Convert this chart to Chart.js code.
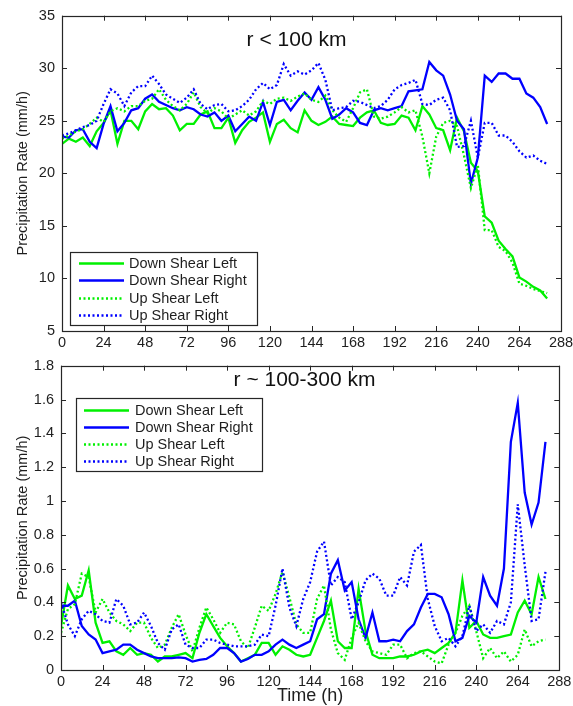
<!DOCTYPE html>
<html>
<head>
<meta charset="utf-8">
<script src="https://cdn.jsdelivr.net/npm/chart.js@4.4.1/dist/chart.umd.min.js"></script>
<style>
  html, body { margin: 0; padding: 0; background: #ffffff; }
  #wrap { position: relative; width: 573px; height: 706px; overflow: hidden; }
  #wrap canvas { position: absolute; left: 0; }
  #inner { top: 0; }
  #outer { top: 350px; }
</style>
</head>
<body>
<div id="wrap">
  <canvas id="inner" width="573" height="350" style="width:573px;height:350px"></canvas>
  <canvas id="outer" width="573" height="356" style="width:573px;height:356px"></canvas>
</div>
<script>
// Time axis (hours since start), shared by all series
const hours = [0, 4, 8, 12, 16, 20, 24, 28, 32, 36, 40, 44, 48, 52, 56, 60, 64, 68, 72, 76,
  80, 84, 88, 92, 96, 100, 104, 108, 112, 116, 120, 124, 128, 132, 136, 140, 144, 148, 152, 156,
  160, 164, 168, 172, 176, 180, 184, 188, 192, 196, 200, 204, 208, 212, 216, 220, 224, 228, 232, 236,
  240, 244, 248, 252, 256, 260, 264, 268, 272, 276, 280];

const seriesNames = ['Down Shear Left', 'Down Shear Right', 'Up Shear Left', 'Up Shear Right'];
const xTicks = [0, 24, 48, 72, 96, 120, 144, 168, 192, 216, 240, 264, 288];

// r < 100 km, precipitation rate (mm/h)
const innerDownLeft = [22.8, 23.3, 23.0, 23.4, 22.6, 24.0, 24.8, 26.0, 22.8, 25.0, 25.0, 24.2, 25.9, 26.6, 26.1, 26.2, 25.5, 24.1, 24.7, 24.7,
  25.6, 25.9, 24.3, 24.3, 25.3, 22.9, 24.1, 24.9, 25.3, 25.8, 23.0, 24.7, 25.1, 24.3, 23.9, 26.0, 25.0, 24.6, 24.9, 25.4,
  24.7, 24.6, 24.5, 25.3, 25.8, 26.0, 24.8, 24.6, 24.7, 25.5, 25.3, 24.1, 26.4, 25.6, 24.3, 24.1, 22.2, 25.3, 24.0, 21.0,
  20.2, 15.9, 15.3, 13.6, 12.8, 12.1, 10.1, 9.7, 9.2, 8.85, 8.1];
const innerDownRight = [23.5, 23.4, 24.1, 24.2, 23.0, 22.4, 24.7, 26.4, 24.0, 24.8, 26.0, 26.2, 27.1, 27.5, 26.8, 26.5, 26.2, 26.0, 26.3, 26.1,
  25.6, 25.4, 25.8, 25.0, 25.5, 24.0, 24.7, 25.4, 25.0, 26.8, 24.6, 26.8, 27.0, 26.0, 26.9, 27.7, 27.0, 28.2, 27.0, 25.2,
  25.6, 26.2, 25.8, 24.8, 24.6, 26.0, 26.2, 26.0, 26.2, 26.4, 27.8, 27.9, 28.0, 30.6, 29.8, 29.3, 27.5, 25.0, 24.2, 19.0,
  21.5, 29.3, 28.7, 29.5, 29.5, 29.0, 29.0, 27.6, 27.2, 26.3, 24.7];
const innerUpLeft = [23.3, 23.6, 24.0, 24.2, 24.7, 25.3, 24.9, 25.9, 26.2, 25.9, 26.4, 26.4, 26.9, 27.1, 28.0, 27.0, 26.4, 26.0, 26.6, 27.7,
  26.3, 25.7, 26.2, 25.9, 25.2, 25.6, 26.0, 25.5, 25.9, 26.9, 26.6, 27.1, 27.2, 26.9, 27.3, 27.6, 27.0, 26.8, 27.4, 26.0,
  25.3, 24.9, 26.2, 27.7, 28.0, 25.4, 25.2, 25.4, 25.8, 26.3, 25.8, 26.0, 23.5, 20.0, 23.5, 24.8, 25.0, 24.5, 21.7, 18.6,
  20.8, 14.6, 14.6, 13.0, 12.6, 11.5, 9.5, 9.3, 9.0, 8.8, 8.6];
const innerUpRight = [23.6, 23.8, 24.1, 24.4, 24.6, 25.0, 26.6, 28.0, 27.6, 26.4, 27.7, 28.3, 28.3, 29.3, 28.5, 27.5, 27.1, 26.7, 27.2, 28.0,
  26.6, 26.1, 26.5, 26.6, 25.9, 26.0, 26.4, 27.0, 28.0, 28.6, 28.0, 28.4, 30.4, 29.3, 29.7, 29.4, 29.8, 30.5, 28.9, 26.0,
  26.2, 26.3, 26.9, 26.8, 26.5, 26.2, 26.4, 27.0, 28.0, 28.4, 28.6, 28.9, 26.6, 26.5, 27.0, 27.2, 26.0, 22.5, 22.6, 25.0,
  21.5, 24.8, 24.8, 23.6, 23.6, 23.0, 22.1, 21.5, 21.7, 21.2, 20.9];

// r ~ 100-300 km, precipitation rate (mm/h)
const outerDownLeft = [0.26, 0.50, 0.42, 0.44, 0.59, 0.28, 0.16, 0.17, 0.11, 0.09, 0.13, 0.09, 0.10, 0.09, 0.05, 0.08, 0.08, 0.09, 0.10, 0.07,
  0.22, 0.33, 0.26, 0.19, 0.14, 0.10, 0.05, 0.07, 0.09, 0.16, 0.16, 0.09, 0.14, 0.12, 0.09, 0.08, 0.09, 0.19, 0.29, 0.41,
  0.17, 0.13, 0.13, 0.48, 0.23, 0.09, 0.07, 0.07, 0.07, 0.08, 0.08, 0.09, 0.11, 0.12, 0.10, 0.13, 0.16, 0.22, 0.53, 0.25,
  0.29, 0.21, 0.19, 0.19, 0.20, 0.21, 0.34, 0.41, 0.33, 0.55, 0.42];
const outerDownRight = [0.38, 0.38, 0.41, 0.26, 0.21, 0.18, 0.10, 0.11, 0.12, 0.15, 0.15, 0.12, 0.10, 0.08, 0.07, 0.07, 0.07, 0.075, 0.07, 0.05,
  0.06, 0.065, 0.09, 0.13, 0.13, 0.10, 0.05, 0.065, 0.09, 0.09, 0.11, 0.15, 0.18, 0.15, 0.13, 0.15, 0.17, 0.30, 0.33, 0.57,
  0.65, 0.47, 0.52, 0.30, 0.19, 0.34, 0.17, 0.17, 0.18, 0.17, 0.23, 0.27, 0.37, 0.45, 0.45, 0.43, 0.33, 0.17, 0.19, 0.32,
  0.28, 0.55, 0.44, 0.38, 0.60, 1.35, 1.58, 1.05, 0.86, 0.99, 1.35];
const outerUpLeft = [0.22, 0.36, 0.39, 0.57, 0.55, 0.34, 0.42, 0.34, 0.29, 0.27, 0.23, 0.28, 0.28, 0.19, 0.13, 0.15, 0.25, 0.33, 0.21, 0.11,
  0.25, 0.37, 0.30, 0.22, 0.28, 0.27, 0.17, 0.13, 0.25, 0.38, 0.35, 0.45, 0.58, 0.43, 0.27, 0.22, 0.22, 0.42, 0.50, 0.24,
  0.10, 0.06, 0.19, 0.28, 0.17, 0.11, 0.10, 0.09, 0.15, 0.15, 0.07, 0.10, 0.11, 0.08, 0.05, 0.04, 0.15, 0.22, 0.32, 0.38,
  0.23, 0.07, 0.13, 0.07, 0.11, 0.05, 0.09, 0.24, 0.14, 0.17, 0.18];
const outerUpRight = [0.40, 0.27, 0.20, 0.30, 0.35, 0.33, 0.29, 0.28, 0.42, 0.38, 0.27, 0.28, 0.34, 0.26, 0.16, 0.12, 0.24, 0.27, 0.15, 0.13,
  0.13, 0.18, 0.18, 0.16, 0.15, 0.14, 0.14, 0.14, 0.15, 0.21, 0.20, 0.38, 0.60, 0.37, 0.26, 0.42, 0.52, 0.70, 0.76, 0.50,
  0.55, 0.52, 0.30, 0.40, 0.53, 0.57, 0.54, 0.44, 0.44, 0.55, 0.50, 0.70, 0.74, 0.42, 0.26, 0.17, 0.19, 0.14, 0.20, 0.38,
  0.23, 0.27, 0.22, 0.29, 0.27, 0.40, 0.98, 0.62, 0.29, 0.30, 0.58];

const FONT = "'Liberation Sans', Arial, Helvetica, sans-serif";
const GREEN = '#00f000';
const BLUE = '#0000ff';
const INK = '#1e1e1e';
Chart.defaults.font.family = FONT;
Chart.defaults.color = INK;

const styles = [
  { color: GREEN, dash: [] },
  { color: BLUE, dash: [] },
  { color: GREEN, dash: [2, 2.5] },
  { color: BLUE, dash: [2, 2.5] }
];

function makeDatasets(valueLists) {
  return valueLists.map((vals, k) => ({
    label: seriesNames[k],
    data: hours.map((h, i) => ({ x: h, y: vals[i] })),
    borderColor: styles[k].color,
    borderDash: styles[k].dash,
    borderWidth: 2.3,
    pointRadius: 0,
    tension: 0,
    fill: false,
    order: 4 - k
  }));
}

// Box around the plot area with inward tick marks on all four sides
const frameTicks = {
  id: 'frameTicks',
  afterDatasetsDraw(chart) {
    const { ctx, chartArea: a, scales } = chart;
    const L = 5;
    ctx.save();
    ctx.strokeStyle = '#262626';
    ctx.lineWidth = 1;
    ctx.beginPath();
    scales.x.ticks.forEach(t => {
      const px = Math.round(scales.x.getPixelForValue(t.value)) + 0.5;
      ctx.moveTo(px, a.bottom); ctx.lineTo(px, a.bottom - L);
      ctx.moveTo(px, a.top); ctx.lineTo(px, a.top + L);
    });
    scales.y.ticks.forEach(t => {
      const py = Math.round(scales.y.getPixelForValue(t.value)) + 0.5;
      ctx.moveTo(a.left, py); ctx.lineTo(a.left + L, py);
      ctx.moveTo(a.right, py); ctx.lineTo(a.right - L, py);
    });
    ctx.stroke();
    ctx.lineWidth = 1.2;
    ctx.strokeRect(Math.round(a.left) + 0.5, Math.round(a.top) + 0.5,
      Math.round(a.right - a.left), Math.round(a.bottom - a.top));
    ctx.restore();
  }
};

// Boxed legend inside the plot area, styled from the datasets
const boxLegend = {
  id: 'boxLegend',
  afterDraw(chart, args, o) {
    const { ctx } = chart;
    ctx.save();
    ctx.fillStyle = '#ffffff';
    ctx.fillRect(o.x, o.y, o.w, o.h);
    ctx.strokeStyle = '#262626';
    ctx.lineWidth = 1.2;
    ctx.strokeRect(o.x + 0.5, o.y + 0.5, o.w, o.h);
    ctx.font = '14.5px ' + FONT;
    ctx.textBaseline = 'middle';
    ctx.textAlign = 'left';
    chart.data.datasets.forEach((ds, i) => {
      const y = Math.round(o.row0 + i * o.gap) + 0.5;
      ctx.strokeStyle = ds.borderColor;
      ctx.setLineDash(ds.borderDash || []);
      ctx.lineWidth = 2.3;
      ctx.beginPath();
      ctx.moveTo(o.lineX0, y);
      ctx.lineTo(o.lineX1, y);
      ctx.stroke();
      ctx.setLineDash([]);
      ctx.fillStyle = INK;
      ctx.fillText(ds.label, o.textX, y + 0.5);
    });
    ctx.restore();
  }
};

// Panel heading placed inside the plot area
const panelHeading = {
  id: 'panelHeading',
  afterDraw(chart, args, o) {
    const { ctx } = chart;
    ctx.save();
    ctx.font = '21px ' + FONT;
    ctx.fillStyle = '#111111';
    ctx.textAlign = 'center';
    ctx.textBaseline = 'middle';
    ctx.fillText(o.text, o.x, o.y);
    ctx.restore();
  }
};

function tickFont() { return { family: FONT, size: 14.5 }; }

function buildChart(id, valueLists, cfg) {
  return new Chart(document.getElementById(id), {
    type: 'line',
    data: { datasets: makeDatasets(valueLists) },
    plugins: [frameTicks, boxLegend, panelHeading],
    options: {
      responsive: false,
      animation: false,
      devicePixelRatio: 1,
      layout: { padding: cfg.padding },
      plugins: {
        legend: { display: false },
        tooltip: { enabled: false },
        boxLegend: cfg.legend,
        panelHeading: cfg.heading
      },
      scales: {
        x: {
          type: 'linear', min: 0, max: 288,
          afterBuildTicks(s) { s.ticks = xTicks.map(v => ({ value: v })); },
          ticks: { padding: 3, maxRotation: 0, autoSkip: false, font: tickFont(), color: INK },
          grid: { display: false, drawTicks: false },
          border: { display: false },
          title: cfg.xTitle,
          afterFit(s) {
            s.height = cfg.xHeight;
            // the end labels may overhang; the layout padding already leaves room
            s.paddingLeft = 0;
            s.paddingRight = 0;
          }
        },
        y: {
          min: cfg.yMin, max: cfg.yMax,
          afterBuildTicks(s) { s.ticks = cfg.yTicks.map(v => ({ value: v })); },
          ticks: {
            padding: 7, font: tickFont(), color: INK,
            callback: v => String(Number(v.toFixed(1)))
          },
          grid: { display: false, drawTicks: false },
          border: { display: false },
          title: {
            display: true, text: 'Precipitation Rate (mm/h)',
            font: { family: FONT, size: 14.5 }, color: INK,
            padding: { top: 14, bottom: 0 }
          },
          afterFit(s) { s.width = cfg.yWidth; }
        }
      }
    }
  });
}

const innerYTicks = [5, 10, 15, 20, 25, 30, 35];
const outerYTicks = [0, 0.2, 0.4, 0.6, 0.8, 1, 1.2, 1.4, 1.6, 1.8];

buildChart('inner', [innerDownLeft, innerDownRight, innerUpLeft, innerUpRight], {
  padding: { left: 0, right: 12, top: 15, bottom: 0 },
  yMin: 5, yMax: 35, yTicks: innerYTicks, yWidth: 62, xHeight: 19,
  xTitle: { display: false },
  legend: { x: 70, y: 252, w: 187, h: 73, row0: 263, gap: 17.3, lineX0: 79, lineX1: 124, textX: 129 },
  heading: { text: 'r < 100 km', x: 296.5, y: 40 }
});

buildChart('outer', [outerDownLeft, outerDownRight, outerUpLeft, outerUpRight], {
  padding: { left: 0, right: 13.7, top: 6, bottom: 0 },
  yMin: 0, yMax: 1.8, yTicks: outerYTicks, yWidth: 61, xHeight: 36,
  xTitle: { display: true, text: 'Time (h)', font: { family: FONT, size: 18 }, color: INK, padding: { top: 0, bottom: -1 } },
  legend: { x: 76, y: 48, w: 186, h: 73, row0: 60, gap: 17, lineX0: 84, lineX1: 129, textX: 135 },
  heading: { text: 'r ~ 100-300 km', x: 304.5, y: 30 }
});
</script>
</body>
</html>
